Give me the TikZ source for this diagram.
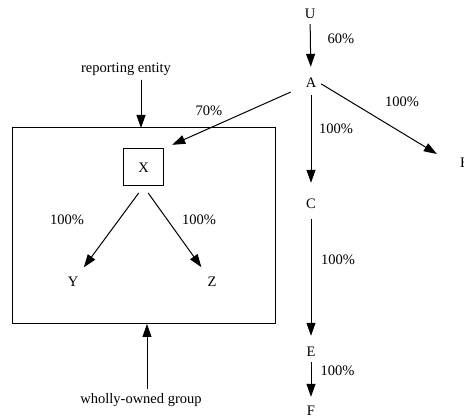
\documentclass[tikz,border=0pt]{standalone}
\usepackage{fontspec}
\setmainfont{Liberation Serif}
\usetikzlibrary{arrows.meta}
\begin{document}
\begin{tikzpicture}[x=1pt,y=-1pt,
  every node/.style={font=\fontsize{14.5}{17}\selectfont},
  ent/.style={circle, minimum size=20pt, inner sep=0pt},
  lbl/.style={inner sep=0pt},
  frame/.style={draw, line width=1pt, inner sep=0pt},
  arr/.style={line width=1pt, -{Triangle[length=13pt,width=9pt]}}]
\useasboundingbox (0,0) rectangle (464,419);
% entities
\node[ent] (U) at (310,14) {U};
\node[ent] (A) at (311,83) {A};
\node[lbl] (B) at (465,163) {B};
\node[ent] (C) at (311,204) {C};
\node[ent] (E) at (311,352) {E};
\node[ent] (F) at (311,411) {F};
\node[frame, minimum width=263pt, minimum height=196pt] (G) at (143.5,226) {};
\node[frame, minimum width=40pt, minimum height=37pt] (X) at (143.5,167.5) {X};
\node[ent] (Y) at (73,282) {Y};
\node[ent] (Z) at (212,282) {Z};
\node[lbl] (rep) at (126,69) {reporting entity};
\node[lbl] (wh) at (141,400) {wholly-owned group};
\coordinate (repin) at (141,128);
\coordinate (grpin) at (147,324);
% connectors
\draw[arr, shorten >=6pt] (U) -- (A);
\draw[arr, shorten <=2pt, shorten >=11pt] (A) -- (C);
\draw[arr, shorten <=5pt, shorten >=6pt] (C) -- (E);
\draw[arr, shorten >=4pt] (E) -- (F);
\draw[arr, shorten >=27pt] (A.-5) -- (B.south west);
\draw[arr, shorten <=12pt, shorten >=9pt] (A) -- (X.north east);
\draw[arr, shorten <=8pt, shorten >=8pt] (X.south) -- (Y);
\draw[arr, shorten <=8pt, shorten >=8pt] (X.south) -- (Z);
\draw[arr, shorten <=4pt] (rep.south -| repin) -- (repin);
\draw[arr, shorten <=4pt] (wh.north -| grpin) -- (grpin);
% labels
\node[lbl] at (341,39) {60\%};
\node[lbl] at (336,129) {100\%};
\node[lbl] at (402,102) {100\%};
\node[lbl] at (209,111) {70\%};
\node[lbl] at (338,260) {100\%};
\node[lbl] at (337.5,371) {100\%};
\node[lbl] at (67,220) {100\%};
\node[lbl] at (199,220) {100\%};
\end{tikzpicture}
\end{document}
